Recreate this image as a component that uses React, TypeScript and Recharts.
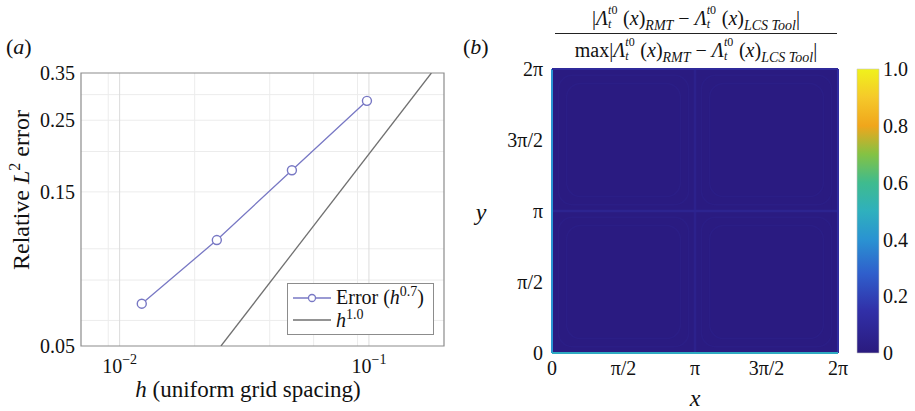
import React from "react"
import {
  ComposedChart,
  Line,
  XAxis,
  YAxis,
  CartesianGrid,
  ReferenceArea,
  ReferenceLine,
  BarChart,
  Bar,
} from "recharts"

const serif = '"Liberation Serif", Tinos, "DejaVu Serif", serif'
const TWO_PI = 2 * Math.PI

// (a) convergence of the relative L2 error with grid spacing
const gridSpacing = [0.01227, 0.02454, 0.04909, 0.09817]
const relError = [0.0676, 0.1064, 0.175, 0.287]
const slopeH = [0.0255, 0.178]
const slopeErr = [0.05, 0.35]
const hTicks = [0.01, 0.1]
const hTickExponents = ["−2", "−1"]
const errTicks = [0.05, 0.15, 0.25, 0.35]
const hMajorGrid = [0.01, 0.1]
const hMinorGrid = [0.008, 0.009, 0.02, 0.03, 0.04, 0.05, 0.06, 0.07, 0.08, 0.09]
const errGrid = [0.06, 0.07, 0.08, 0.09, 0.1, 0.15, 0.2, 0.25, 0.3]

// (b) normalised FTLE difference field on [0, 2π]²
const piTicks = [0, Math.PI / 2, Math.PI, (3 * Math.PI) / 2, TWO_PI]
const piTickLabels = ["0", "π/2", "π", "3π/2", "2π"]
const interiorLevel = 0.01
const seamsX = [{ at: Math.PI, level: 0.05 }]
const seamsY = [{ at: Math.PI, level: 0.065 }]
const edgesX = [
  { at: 0, level: 0.4 },
  { at: TWO_PI, level: 0.12 },
]
const edgesY = [
  { at: 0, level: 0.48 },
  { at: TWO_PI, level: 0.1 },
]
const quadrants = [
  [0, Math.PI],
  [Math.PI, TWO_PI],
]
const ringInsets = [0.14, 0.32]
const ringLevel = 0.06

// colour bar
const cbTicks = [0, 0.2, 0.4, 0.6, 0.8, 1]
const cbTickLabels = ["0", "0.2", "0.4", "0.6", "0.8", "1.0"]
const cbStops: [number, string][] = [
  [0, "#2a1a7e"],
  [0.15, "#3130a8"],
  [0.28, "#2f5fcc"],
  [0.4, "#2a93d2"],
  [0.5, "#2fb0bd"],
  [0.6, "#3fbb8e"],
  [0.7, "#84c244"],
  [0.8, "#f0a61c"],
  [0.9, "#f5c92a"],
  [1, "#f0f21c"],
]

const errorRows = gridSpacing.map((h, i) => ({ h, err: relError[i] }))
const slopeRows = slopeH.map((h, i) => ({ h, err: slopeErr[i] }))
const cornerRows = [
  { x: 0, y: 0 },
  { x: TWO_PI, y: TWO_PI },
]

const hexToRgb = (c: string) => [1, 3, 5].map((i) => parseInt(c.slice(i, i + 2), 16))

function levelColor(v: number) {
  for (let i = 1; i < cbStops.length; i++) {
    const [v1, c1] = cbStops[i]
    const [v0, c0] = cbStops[i - 1]
    if (v <= v1) {
      const t = (v - v0) / (v1 - v0)
      const a = hexToRgb(c0)
      const b = hexToRgb(c1)
      const m = a.map((x, k) => Math.round(x + (b[k] - x) * t))
      return `rgb(${m[0]},${m[1]},${m[2]})`
    }
  }
  return cbStops[cbStops.length - 1][1]
}

const PowTick = ({ x, y, payload }: any) => {
  const idx = hTicks.indexOf(payload.value)
  return (
    <text x={x} y={y + 25} textAnchor="middle" fontSize={20} fontFamily={serif} fill="#111">
      10
      <tspan dy={-9} fontSize={14}>
        {hTickExponents[idx]}
      </tspan>
    </text>
  )
}

const Lam = () => (
  <span style={{ whiteSpace: "nowrap" }}>
    <i>Λ</i>
    <span
      style={{
        display: "inline-block",
        position: "relative",
        width: 15,
        height: 10,
        fontSize: 12,
        lineHeight: "12px",
      }}
    >
      <span style={{ position: "absolute", left: 0, top: -11 }}>
        <i>t</i>0
      </span>
      <span style={{ position: "absolute", left: 0, top: 3 }}>
        <i>t</i>
      </span>
    </span>
  </span>
)

const Diff = () => (
  <>
    |<Lam />
    (<i>x</i>)<span style={{ fontSize: 14, fontStyle: "italic", position: "relative", top: 5 }}>RMT</span> −{" "}
    <Lam />
    (<i>x</i>)<span style={{ fontSize: 14, fontStyle: "italic", position: "relative", top: 5 }}>LCS Tool</span>|
  </>
)

function ErrorPanel() {
  return (
    <ComposedChart width={455} height={411} margin={{ top: 73, right: 11, bottom: 25, left: 0 }}>
      <CartesianGrid stroke="#ececec" verticalValues={hMinorGrid} horizontalValues={errGrid} />
      <CartesianGrid stroke="#dcdcdc" verticalValues={hMajorGrid} horizontal={false} />
      <XAxis
        type="number"
        dataKey="h"
        scale="log"
        domain={[0.007, 0.2]}
        allowDataOverflow
        ticks={hTicks}
        tick={<PowTick />}
        tickSize={0}
        tickLine={false}
        axisLine={false}
        height={40}
      />
      <YAxis
        type="number"
        dataKey="err"
        scale="log"
        domain={[0.05, 0.35]}
        allowDataOverflow
        ticks={errTicks}
        tickFormatter={(v: number) => v.toFixed(2)}
        tick={{ fontSize: 20, fill: "#111", fontFamily: serif }}
        tickSize={0}
        tickMargin={6}
        tickLine={false}
        axisLine={false}
        width={81}
      />
      <ReferenceArea x1={0.007} x2={0.2} y1={0.05} y2={0.35} fill="none" stroke="#8c8c8c" strokeWidth={1.2} />
      <Line data={slopeRows} dataKey="err" stroke="#707070" strokeWidth={1.3} dot={false} isAnimationActive={false} />
      <Line
        data={errorRows}
        dataKey="err"
        stroke="#7878c4"
        strokeWidth={1.3}
        dot={{ r: 4.5, stroke: "#7878c4", strokeWidth: 1.4, fill: "#fff" }}
        isAnimationActive={false}
      />
    </ComposedChart>
  )
}

function FieldPanel() {
  return (
    <ComposedChart width={400} height={411} data={cornerRows} margin={{ top: 69, right: 22, bottom: 0, left: 0 }}>
      <XAxis
        type="number"
        dataKey="x"
        domain={[0, TWO_PI]}
        allowDataOverflow
        ticks={piTicks}
        tickFormatter={(v: number) => piTickLabels[piTicks.indexOf(v)]}
        tick={{ fontSize: 20, fill: "#111", fontFamily: serif }}
        tickSize={0}
        tickMargin={8}
        tickLine={false}
        axisLine={false}
        height={58}
      />
      <YAxis
        type="number"
        dataKey="y"
        domain={[0, TWO_PI]}
        allowDataOverflow
        ticks={piTicks}
        tickFormatter={(v: number) => piTickLabels[piTicks.indexOf(v)]}
        tick={{ fontSize: 20, fill: "#111", fontFamily: serif }}
        tickSize={0}
        tickMargin={9}
        tickLine={false}
        axisLine={false}
        width={92}
      />
      <ReferenceArea x1={0} x2={TWO_PI} y1={0} y2={TWO_PI} fill={levelColor(interiorLevel)} fillOpacity={1} />
      {quadrants.flatMap(([xa, xb]) =>
        quadrants.flatMap(([ya, yb]) =>
          ringInsets.map((d) => (
            <ReferenceArea
              key={`${xa}-${ya}-${d}`}
              x1={xa + d}
              x2={xb - d}
              y1={ya + d}
              y2={yb - d}
              shape={(p: any) => (
                <rect
                  x={p.x}
                  y={p.y}
                  width={p.width}
                  height={p.height}
                  rx={14}
                  fill="none"
                  stroke={levelColor(ringLevel)}
                  strokeOpacity={0.4}
                  strokeWidth={1.5}
                />
              )}
            />
          ))
        )
      )}
      {seamsX.map((s) => (
        <ReferenceLine key={`sx${s.at}`} x={s.at} stroke={levelColor(s.level)} strokeWidth={2.5} />
      ))}
      {seamsY.map((s) => (
        <ReferenceLine key={`sy${s.at}`} y={s.at} stroke={levelColor(s.level)} strokeWidth={2.5} />
      ))}
      {edgesX.map((s) => (
        <ReferenceLine key={`ex${s.at}`} x={s.at} stroke={levelColor(s.level)} strokeWidth={2} />
      ))}
      {edgesY.map((s) => (
        <ReferenceLine key={`ey${s.at}`} y={s.at} stroke={levelColor(s.level)} strokeWidth={2} />
      ))}
    </ComposedChart>
  )
}

function ColorBar() {
  return (
    <BarChart
      width={65}
      height={411}
      data={[{ name: "cb", top: 1 }]}
      margin={{ top: 69, right: 0, bottom: 58, left: 7 }}
      barCategoryGap={0}
    >
      <defs>
        <linearGradient id="cbGrad" x1="0" y1="1" x2="0" y2="0">
          {cbStops.map(([v, c]) => (
            <stop key={v} offset={v} stopColor={c} />
          ))}
        </linearGradient>
      </defs>
      <XAxis dataKey="name" hide />
      <YAxis
        orientation="right"
        type="number"
        domain={[0, 1]}
        ticks={cbTicks}
        tickFormatter={(v: number) => cbTickLabels[cbTicks.indexOf(v)]}
        tick={{ fontSize: 20, fill: "#111", fontFamily: serif }}
        tickSize={0}
        tickMargin={4}
        tickLine={false}
        axisLine={false}
        width={36}
      />
      <Bar dataKey="top" fill="url(#cbGrad)" stroke="#c8c8c8" strokeWidth={0.6} isAnimationActive={false} />
    </BarChart>
  )
}

export default function App() {
  const text: React.CSSProperties = {
    position: "absolute",
    fontFamily: serif,
    color: "#111",
    whiteSpace: "nowrap",
  }
  return (
    <div style={{ position: "absolute", left: 0, top: 0, width: 915, height: 411, background: "#fff" }}>
      <div style={{ position: "absolute", left: 0, top: 0 }}>
        <ErrorPanel />
      </div>
      <div style={{ position: "absolute", left: 460, top: 0 }}>
        <FieldPanel />
      </div>
      <div style={{ position: "absolute", left: 850, top: 0 }}>
        <ColorBar />
      </div>

      {/* panel tags */}
      <div style={{ ...text, left: 6, top: 34, fontSize: 22 }}>
        (<i>a</i>)
      </div>
      <div style={{ ...text, left: 463, top: 34, fontSize: 22 }}>
        (<i>b</i>)
      </div>

      {/* axis titles for (a) */}
      <div
        style={{
          ...text,
          left: 21,
          top: 190,
          fontSize: 24,
          transform: "translate(-50%, -50%) rotate(-90deg)",
        }}
      >
        Relative <i>L</i>
        <sup style={{ fontSize: 16, lineHeight: 0 }}>2</sup> error
      </div>
      <div
        style={{ ...text, left: 248, top: 390, fontSize: 23, lineHeight: "24px", transform: "translate(-50%, -50%)" }}
      >
        <i>h</i> (uniform grid spacing)
      </div>

      {/* legend for (a) */}
      <div
        style={{
          position: "absolute",
          left: 287,
          top: 283,
          width: 145,
          height: 50,
          border: "1.3px solid #8c8c8c",
          background: "#fff",
          fontFamily: serif,
          fontSize: 20,
          color: "#111",
        }}
      >
        <svg width={42} height={50} style={{ position: "absolute", left: 3, top: 0 }}>
          <line x1={2} x2={40} y1={14} y2={14} stroke="#7878c4" strokeWidth={1.3} />
          <circle cx={21} cy={14} r={3.5} stroke="#7878c4" strokeWidth={1.3} fill="#fff" />
          <line x1={2} x2={40} y1={36} y2={36} stroke="#707070" strokeWidth={1.3} />
        </svg>
        <div style={{ position: "absolute", left: 48, top: 1, lineHeight: "24px", whiteSpace: "nowrap" }}>
          Error (<i>h</i>
          <sup style={{ fontSize: 14, lineHeight: 0 }}>0.7</sup>)
        </div>
        <div style={{ position: "absolute", left: 48, top: 24, lineHeight: "24px", whiteSpace: "nowrap" }}>
          <i>h</i>
          <sup style={{ fontSize: 14, lineHeight: 0 }}>1.0</sup>
        </div>
      </div>

      {/* axis titles for (b) */}
      <div style={{ ...text, left: 481, top: 212, fontSize: 24, transform: "translate(-50%, -50%)" }}>
        <i>y</i>
      </div>
      <div style={{ ...text, left: 695, top: 398, fontSize: 24, transform: "translate(-50%, -50%)" }}>
        <i>x</i>
      </div>

      {/* colour-bar quantity */}
      <div style={{ ...text, left: 555, top: 0, width: 282, fontSize: 20, textAlign: "center" }}>
        <div style={{ height: 33, lineHeight: "36px", borderBottom: "1.2px solid #222" }}>
          <Diff />
        </div>
        <div style={{ height: 34, lineHeight: "32px" }}>
          max
          <Diff />
        </div>
      </div>
    </div>
  )
}
